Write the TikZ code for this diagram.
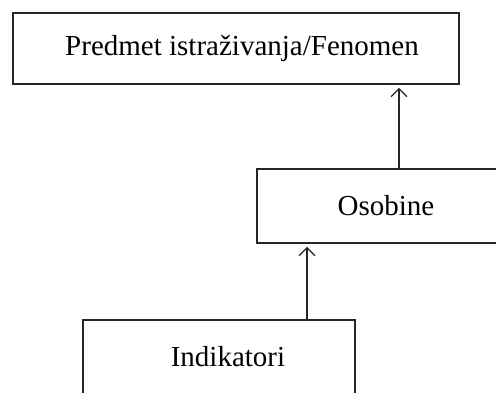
\documentclass[tikz,border=0pt]{standalone}
\usepackage{fontspec}
\setmainfont{Liberation Serif}
\usetikzlibrary{arrows.meta}
\begin{document}
\begin{tikzpicture}[x=1pt,y=-1pt,
  box/.style={draw=black!85, line width=1.5pt, rectangle, inner sep=0pt,
    font=\fontsize{29}{33}\selectfont},
  arr/.style={draw=black!85, line width=1.4pt,
    -{Straight Barb[length=8pt,width=16pt,line width=1.4pt]}}]
  \clip (0,0) rectangle (496,392);
  \fill[white] (0,0) rectangle (496,392);
  % boxes, text sits a little right of centre
  \node[box, minimum width=446pt, minimum height=71pt] (top) at (236,48.5)
    {\hspace{12pt}Predmet istraživanja/Fenomen};
  \node[box, minimum width=244pt, minimum height=74pt] (mid) at (379,206)
    {\hspace{14pt}Osobine};
  \node[box, minimum width=272pt, minimum height=74pt] (bot) at (219,357)
    {\hspace{18pt}Indikatori};
  % connectors
  \coordinate (a1) at ([xshift=20pt]mid.north);
  \coordinate (a2) at ([xshift=88pt]bot.north);
  \draw[arr, shorten >=3pt] (a1) -- (a1 |- top.south);
  \draw[arr, shorten >=3pt] (a2) -- (a2 |- mid.south);
\end{tikzpicture}
\end{document}
